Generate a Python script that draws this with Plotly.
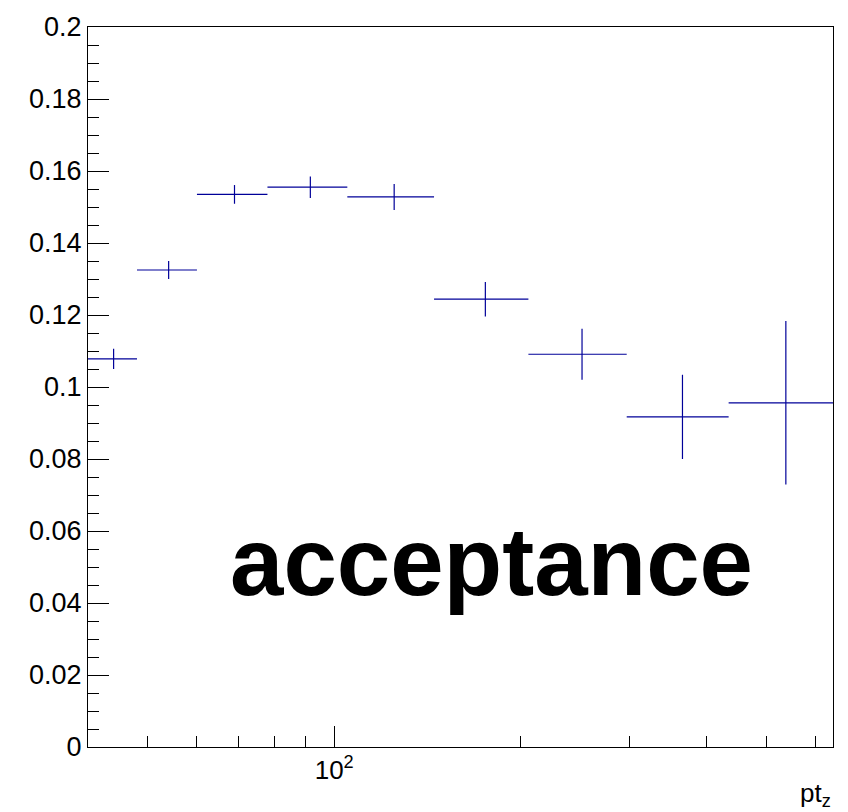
import math
import plotly.graph_objects as go

# ---- data ----
bin_low = [40, 48, 60, 78, 105, 145, 206, 297, 434]
bin_high = [48, 60, 78, 105, 145, 206, 297, 434, 640]
acceptance = [0.1078, 0.1325, 0.1535, 0.1555, 0.1528, 0.1244, 0.1091, 0.0917, 0.0956]
acc_err = [0.0028, 0.0025, 0.0026, 0.0030, 0.0036, 0.0048, 0.0071, 0.0117, 0.0227]

y_tick_vals = [0, 0.02, 0.04, 0.06, 0.08, 0.1, 0.12, 0.14, 0.16, 0.18, 0.2]
y_tick_text = ["0", "0.02", "0.04", "0.06", "0.08", "0.1", "0.12", "0.14", "0.16", "0.18", "0.2"]
x_tick_vals = [100]
x_tick_text = ["10<sup>2</sup>"]
x_minor_vals = [50, 60, 70, 80, 90, 200, 300, 400, 500, 600]

centers = [(lo + hi) / 2 for lo, hi in zip(bin_low, bin_high)]
err_plus = [hi - c for hi, c in zip(bin_high, centers)]
err_minus = [c - lo for lo, c in zip(bin_low, centers)]

LINE = "#000099"
FONT = "Liberation Sans, Arial, Helvetica, sans-serif"

fig = go.Figure()
fig.add_trace(go.Scatter(
    x=centers, y=acceptance, mode="markers",
    marker=dict(size=1, color="rgba(0,0,0,0)", line=dict(width=0)),
    error_x=dict(type="data", symmetric=False, array=err_plus, arrayminus=err_minus,
                 width=0, thickness=1.2, color=LINE),
    error_y=dict(type="data", array=acc_err, width=0, thickness=1.2, color=LINE),
    showlegend=False, hoverinfo="skip",
))

fig.update_layout(
    width=848, height=812,
    margin=dict(l=88, r=15, t=25, b=65),
    paper_bgcolor="white", plot_bgcolor="white",
    font=dict(family=FONT, size=26, color="black"),
    showlegend=False,
    xaxis=dict(
        type="log", range=[math.log10(40), math.log10(640)],
        tickmode="array", tickvals=x_tick_vals, ticktext=x_tick_text,
        ticks="inside", ticklen=21, tickwidth=1, tickcolor="black",
        showline=True, linecolor="black", linewidth=1, mirror=True,
        showgrid=False, zeroline=False,
        tickfont=dict(size=26),
        minor=dict(tickmode="array", tickvals=x_minor_vals, ticks="inside",
                   ticklen=11, tickwidth=1, tickcolor="black", showgrid=False),
    ),
    yaxis=dict(
        range=[0, 0.2],
        tickmode="array", tickvals=y_tick_vals, ticktext=y_tick_text,
        ticks="inside", ticklen=21, tickwidth=1, tickcolor="black",
        showline=True, linecolor="black", linewidth=1, mirror=True,
        showgrid=False, zeroline=False,
        tickfont=dict(size=27),
        minor=dict(dtick=0.005, tick0=0, ticks="inside",
                   ticklen=11, tickwidth=1, tickcolor="black", showgrid=False),
    ),
    annotations=[
        dict(text="<b>acceptance</b>", xref="paper", yref="paper",
             x=0.541, y=0.258, xanchor="center", yanchor="middle",
             showarrow=False, font=dict(size=96, family=FONT, color="black")),
        dict(text="pt<sub>z</sub>", xref="paper", yref="paper",
             x=1.0, y=-0.066, xanchor="right", yanchor="middle",
             showarrow=False, font=dict(size=26, family=FONT, color="black")),
    ],
)

fig.write_html("out.html")
